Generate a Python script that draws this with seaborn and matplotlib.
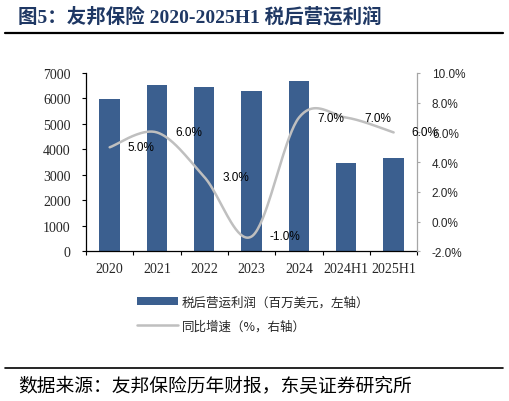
import numpy as np
import matplotlib
matplotlib.use("Agg")
import matplotlib.pyplot as plt
import seaborn as sns
from matplotlib.patches import Patch
from matplotlib.lines import Line2D
from matplotlib.ticker import FixedLocator

sns.set_style("white")
plt.rcParams['font.family'] = ['Liberation Serif', 'Noto Sans CJK SC']
plt.rcParams['axes.unicode_minus'] = False

# data
periods = ['2020', '2021', '2022', '2023', '2024', '2024H1', '2025H1']
opat = [5990, 6510, 6460, 6310, 6700, 3460, 3680]          # 百万美元
growth = [5.0, 6.0, 3.0, -1.0, 7.0, 7.0, 6.0]               # %
growth_labels = ['5.0%', '6.0%', '3.0%', '-1.0%', '7.0%', '7.0%', '6.0%']
left_ticks = [0, 1000, 2000, 3000, 4000, 5000, 6000, 7000]
right_ticks = [-2, 0, 2, 4, 6, 8, 10]

bar_color = '#3B5F8F'
line_color = '#BFBFBF'
navy = '#1F3864'


def smooth_line(xv, yv, n=40):
    # Excel-style smoothed line (Catmull-Rom as cubic Bezier)
    p = np.column_stack([xv, yv]).astype(float)
    ext = np.vstack([p[0], p, p[-1]])
    xs, ys = [], []
    t = np.linspace(0, 1, n)[:, None]
    for i in range(len(p) - 1):
        p0, p1, p2, p3 = ext[i], ext[i + 1], ext[i + 2], ext[i + 3]
        c1 = p1 + (p2 - p0) / 6
        c2 = p2 - (p3 - p1) / 6
        seg = ((1 - t) ** 3) * p1 + 3 * ((1 - t) ** 2) * t * c1 + 3 * (1 - t) * t ** 2 * c2 + t ** 3 * p2
        xs.extend(seg[:, 0])
        ys.extend(seg[:, 1])
    return np.array(xs), np.array(ys)


fig = plt.figure(figsize=(5.09, 4.02), dpi=100)
ax = fig.add_axes([86 / 509, 1 - 252.3 / 402, (417.3 - 86) / 509, (252.3 - 74) / 402])

sns.barplot(x=periods, y=opat, ax=ax, color=bar_color, saturation=1, width=0.43, edgecolor='none')
ax.set_xlim(-0.5, len(periods) - 0.5)
ax.set_ylim(0, 7000)
ax.set_yticks(left_ticks)
ax.set_yticklabels([str(v) for v in left_ticks], fontsize=10, family='Liberation Serif')
ax.set_xticks(range(len(periods)))
ax.set_xticklabels(periods, fontsize=10, family='Liberation Serif')
ax.xaxis.set_minor_locator(FixedLocator(np.arange(-0.5, len(periods), 1.0)))
ax.tick_params(axis='x', which='major', length=0, pad=8)
ax.tick_params(axis='x', which='minor', length=3, width=0.8, color='black', direction='out', bottom=True)
ax.tick_params(axis='y', which='major', length=3, width=0.8, color='black', direction='out', left=True, pad=8)
ax.set_xlabel('')
ax.set_ylabel('')
for side in ['top', 'right']:
    ax.spines[side].set_visible(False)
for side in ['left', 'bottom']:
    ax.spines[side].set_color('black')
    ax.spines[side].set_linewidth(0.9)

ax2 = ax.twinx()
sx, sy = smooth_line(np.arange(len(periods)), growth)
ax2.plot(sx, sy, color=line_color, lw=1.8, solid_capstyle='round')
ax2.set_ylim(-2, 10)
ax2.set_yticks(right_ticks)
ax2.set_yticklabels(['%.1f%%' % v for v in right_ticks], fontsize=8.5, family='Liberation Sans')
ax2.tick_params(axis='y', length=2.5, width=0.8, color='#A6A6A6', direction='out', right=True, pad=8)
for side in ['top', 'left', 'bottom']:
    ax2.spines[side].set_visible(False)
ax2.spines['right'].set_color('#A6A6A6')
ax2.spines['right'].set_linewidth(0.9)
ax2.set_xlim(-0.5, len(periods) - 0.5)

for i, (v, lab) in enumerate(zip(growth, growth_labels)):
    ax2.annotate(lab, (i, v), xytext=(13, 0), textcoords='offset points',
                 ha='left', va='center', fontsize=8.5, family='Liberation Sans', color='black')

# title and rules
fig.text(18 / 509, 1 - 17 / 402, '图5：友邦保险 2020-2025H1 税后营运利润',
         family=['Liberation Serif', 'Noto Sans CJK SC'], weight='bold', fontsize=14,
         color=navy, ha='left', va='center')
fig.add_artist(Line2D([5 / 509, 503 / 509], [1 - 34.3 / 402] * 2, color='black', lw=1.6))
fig.add_artist(Line2D([5 / 509, 503 / 509], [1 - 368.5 / 402] * 2, color='black', lw=1.2))
fig.text(18 / 509, 1 - 387 / 402, '数据来源：友邦保险历年财报，东吴证券研究所',
         family=['Noto Sans CJK SC'], fontsize=13.5, color='black', ha='left', va='center')

handles = [Patch(facecolor=bar_color, edgecolor='none'),
           Line2D([0], [0], color=line_color, lw=1.8)]
labels = ['税后营运利润（百万美元，左轴）', '同比增速（%，右轴）']
fig.legend(handles, labels, loc='center left', bbox_to_anchor=(137 / 509, 1 - 315 / 402),
           frameon=False, prop={'family': ['Noto Sans CJK SC'], 'size': 9},
           handlelength=3.3, handleheight=0.6, handletextpad=0.3, labelspacing=0.85,
           borderpad=0, borderaxespad=0)

fig.savefig('out.png', dpi=100)
